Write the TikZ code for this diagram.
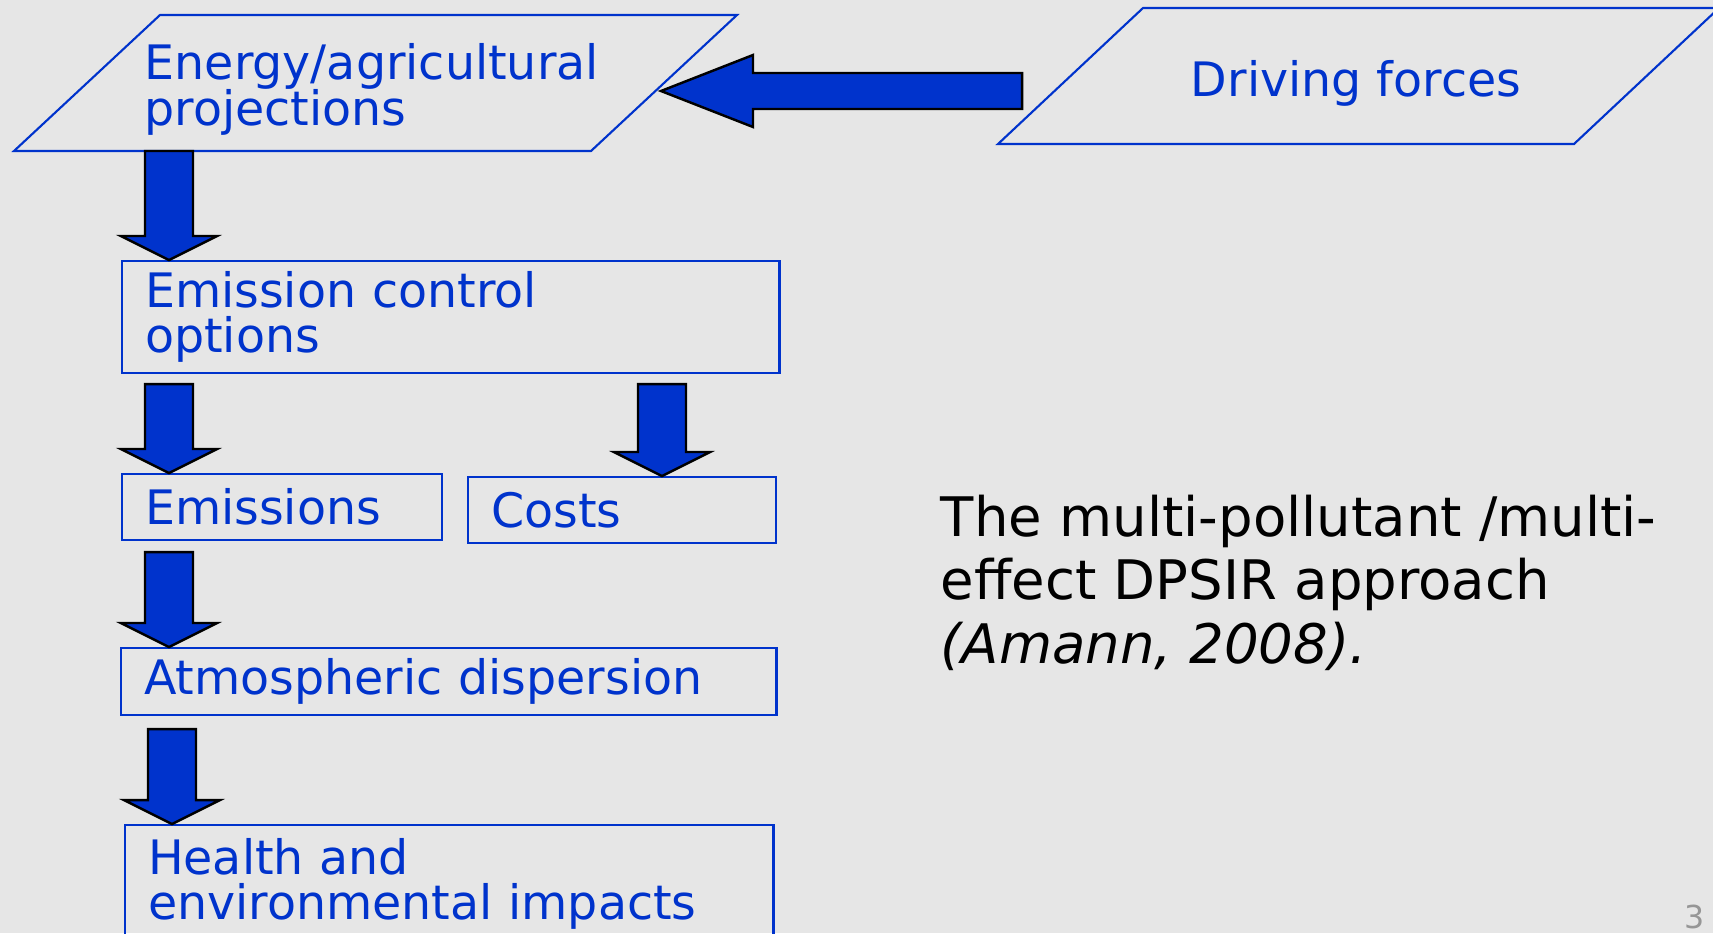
\documentclass[tikz,border=0pt]{standalone}
\usepackage{fontspec}
\setmainfont{DejaVu Sans}
\usepackage{tikz}
\usetikzlibrary{calc}
\definecolor{DpsirBlue}{RGB}{0,51,204}
\definecolor{SlideGray}{RGB}{230,230,230}
\definecolor{SlideNum}{RGB}{150,150,150}
\newcommand{\boxfont}{\fontsize{13.5}{12.9}\selectfont\lineskiplimit=-100pt\relax}
\newcommand{\notefont}{\fontsize{15.5}{18}\selectfont\lineskiplimit=-100pt\relax}
\newcommand{\dnarrow}[2]{%
  \draw[blkarr] ($(#1)+(-24,0)$) -- ($(#1)+(24,0)$) -- ($(#2)+(24,-24)$) -- ($(#2)+(48,-24)$)
    -- (#2) -- ($(#2)+(-48,-24)$) -- ($(#2)+(-24,-24)$) -- cycle;}

\begin{document}
\begin{tikzpicture}[x=0.01cm,y=-0.01cm,
  boxtxt/.style={font=\boxfont,text=DpsirBlue},
  box/.style={boxtxt,draw=DpsirBlue,line width=0.6pt,rectangle,anchor=north west,inner xsep=0.23cm,inner ysep=0pt,align=left},
  blkarr/.style={fill=DpsirBlue,draw=black,line width=0.7pt,line join=miter},
  prll/.style={draw=DpsirBlue,line width=0.6pt}]
\useasboundingbox (0,0) rectangle (1713,933);
\clip (0,0) rectangle (1713,933);
\fill[SlideGray] (0,0) rectangle (1713,933);

\draw[prll] (14,151) coordinate (projbl) -- (160,15) -- (737,15) -- (591,151) -- cycle;
\draw[prll] (998,144) coordinate (drvbl) -- (1143,8) -- (1719,8) -- (1574,144) -- cycle;
\node[boxtxt,anchor=north west,inner sep=0pt,align=left] (proj) at (144,43) {Energy/agricultural\\projections};
\node[boxtxt,anchor=base,inner sep=0pt] (drv) at (1356,96) {Driving forces};

\node[box,text width=6.11cm,minimum height=1.12cm] (ctrl) at (121,260) {Emission control\\options};
\node[box,text width=2.74cm,minimum height=0.66cm] (emis) at (121,473) {Emissions};
\node[box,text width=2.62cm,minimum height=0.66cm] (cost) at (467,476) {Costs};
\node[box,text width=6.09cm,minimum height=0.67cm] (atmo) at (120,647) {Atmospheric dispersion};
\node[box,text width=6.02cm,minimum height=1.18cm] (hlth) at (124,824) {Health and\\environmental impacts};

\node[anchor=north west,inner sep=0pt,align=left,font=\notefont] (note) at (940,494.5)
  {The multi-pollutant /multi-\\effect DPSIR approach\\\textit{(Amann, 2008).}};
\node[anchor=base west,inner sep=0pt,text=SlideNum,font=\fontsize{9}{10}\selectfont] (pgno) at (1684,928) {3};

\coordinate (a1h) at ($(ctrl.north west)+(48,0)$);
\coordinate (a1t) at (a1h |- projbl);
\coordinate (a2h) at ($(emis.north west)+(48,0)$);
\coordinate (a2t) at ($(a2h |- ctrl.south)+(0,10)$);
\coordinate (a3h) at ($(cost.north west)+(195,0)$);
\coordinate (a3t) at (a3h |- a2t);
\coordinate (a4h) at ($(atmo.north west)+(49,0)$);
\coordinate (a4t) at ($(a4h |- emis.south)+(0,11)$);
\coordinate (a5h) at ($(hlth.north west)+(48,0)$);
\coordinate (a5t) at ($(a5h |- atmo.south)+(0,13)$);
\foreach \t/\h in {a1t/a1h,a2t/a2h,a3t/a3h,a4t/a4h,a5t/a5h} {
   \dnarrow{\t}{\h}
}

\coordinate (ltip) at (661,91);
\coordinate (ltail) at ($(drvbl)+(24,-53)$);
\draw[blkarr] (ltip) -- ++(92,-36) -- ++(0,18) -- ($(ltail)+(0,-18)$) -- ($(ltail)+(0,18)$)
   -- ($(ltip)+(92,18)$) -- ++(0,18) -- cycle;
\end{tikzpicture}
\end{document}
